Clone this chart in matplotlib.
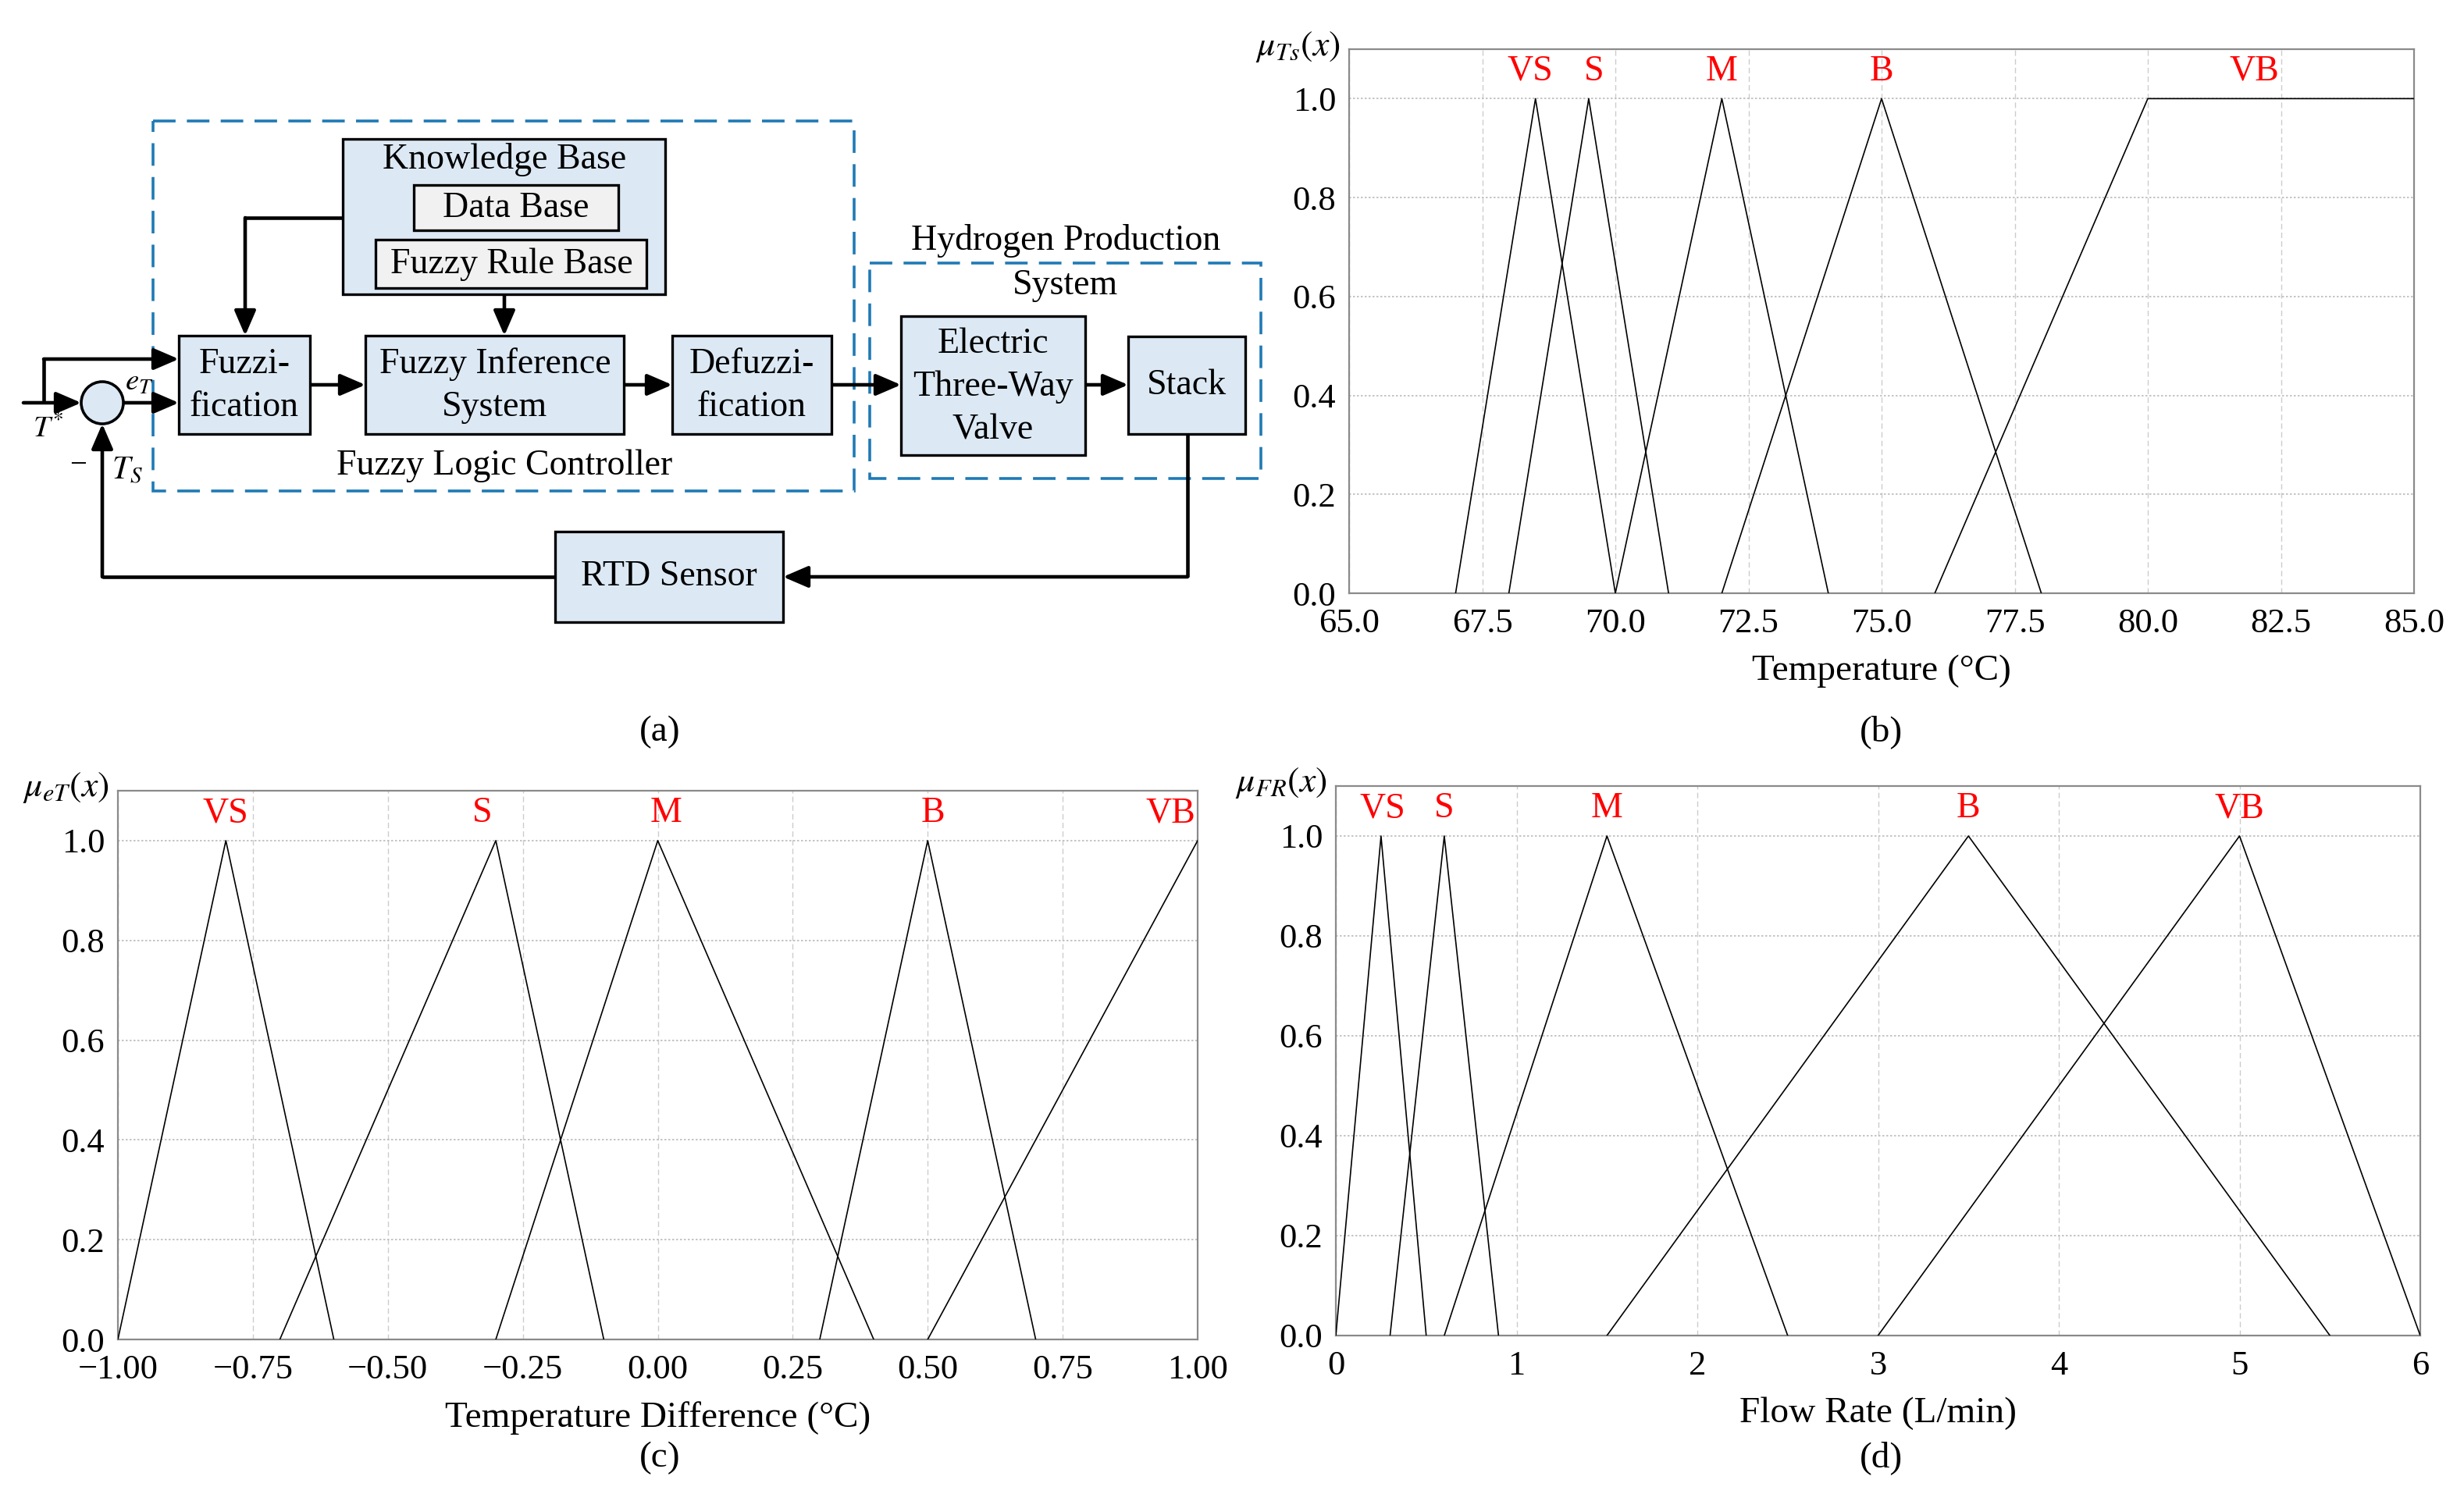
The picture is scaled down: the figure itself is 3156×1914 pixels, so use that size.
import matplotlib.pyplot as plt
from matplotlib.patches import Rectangle, Circle

plt.rcParams['font.family'] = ['Liberation Serif', 'DejaVu Serif']
plt.rcParams['mathtext.fontset'] = 'stix'

W, H = 3156, 1914

# ---- membership function data ----
mf_names = ['VS', 'S', 'M', 'B', 'VB']
mu_ticks = [0.0, 0.2, 0.4, 0.6, 0.8, 1.0]

# (b) stack temperature
ts_points = [[67.0, 68.5, 70.0], [68.0, 69.5, 71.0], [70.0, 72.0, 74.0],
             [72.0, 75.0, 78.0], [76.0, 80.0, 85.0]]
ts_mu = [[0, 1, 0], [0, 1, 0], [0, 1, 0], [0, 1, 0], [0, 1, 1]]
ts_name_x = [68.4, 69.6, 72.0, 75.0, 82.0]
ts_ticks = [65.0, 67.5, 70.0, 72.5, 75.0, 77.5, 80.0, 82.5, 85.0]

# (c) temperature difference
et_points = [[-1.0, -0.8, -0.6], [-0.7, -0.3, -0.1], [-0.3, 0.0, 0.4],
             [0.3, 0.5, 0.7], [0.5, 1.0]]
et_mu = [[0, 1, 0], [0, 1, 0], [0, 1, 0], [0, 1, 0], [0, 1]]
et_name_x = [-0.8, -0.325, 0.015, 0.51, 0.95]
et_ticks = [-1.0, -0.75, -0.5, -0.25, 0.0, 0.25, 0.5, 0.75, 1.0]

# (d) flow rate
fr_points = [[0.0, 0.25, 0.5], [0.3, 0.6, 0.9], [0.6, 1.5, 2.5],
             [1.5, 3.5, 5.5], [3.0, 5.0, 6.0]]
fr_mu = [[0, 1, 0], [0, 1, 0], [0, 1, 0], [0, 1, 0], [0, 1, 0]]
fr_name_x = [0.26, 0.6, 1.5, 3.5, 5.0]
fr_ticks = [0, 1, 2, 3, 4, 5, 6]

fig = plt.figure(figsize=(W / 100, H / 100), dpi=100)

# ---- block diagram (a), drawn in pixel units ----
axd = fig.add_axes([0, 0, 1, 1])
axd.set_xlim(0, W)
axd.set_ylim(H, 0)
axd.axis('off')

blue_fill = '#dce9f5'
grey_fill = '#f1f1f1'
dash_col = '#1f7ab5'
txt = 33


def box(x0, y0, x1, y1, fc=blue_fill, lw=2.4):
    axd.add_patch(Rectangle((x0, y0), x1 - x0, y1 - y0, fc=fc, ec='black', lw=lw, zorder=3))


def label(x, y, s, size=txt, **kw):
    axd.text(x, y, s, fontsize=size, ha='center', va='center', zorder=5, **kw)


def wire(pts, head=True):
    xs = [p[0] for p in pts]
    ys = [p[1] for p in pts]
    if head:
        axd.plot(xs[:-1], ys[:-1], color='black', lw=3.3, solid_capstyle='butt', zorder=2)
        axd.annotate('', xy=pts[-1], xytext=pts[-2],
                     arrowprops=dict(arrowstyle='-|>,head_length=0.65,head_width=0.28',
                                     color='black', lw=3.3, mutation_scale=30,
                                     shrinkA=0, shrinkB=0), zorder=2)
    else:
        axd.plot(xs, ys, color='black', lw=3.3, zorder=2)


# dashed group frames
axd.add_patch(Rectangle((196, 155), 1094 - 196, 629 - 155, fill=False, ec=dash_col,
                        lw=2.6, ls=(0, (8, 4)), zorder=1))
axd.add_patch(Rectangle((1114, 337), 1615 - 1114, 613 - 337, fill=False, ec=dash_col,
                        lw=2.6, ls=(0, (8, 4)), zorder=1))

# blocks
box(439, 178, 852, 377)
box(530, 237, 792, 295, fc=grey_fill)
box(481, 307, 828, 369, fc=grey_fill)
box(229, 430, 397, 556)
box(468, 430, 799, 556)
box(861, 430, 1065, 556)
box(1154, 405, 1390, 583)
box(1445, 431, 1595, 556)
box(711, 681, 1003, 797)
axd.add_patch(Circle((131, 516), 27, fc=blue_fill, ec='black', lw=2.6, zorder=3))

label(646, 204, 'Knowledge Base')
label(661, 267, 'Data Base')
label(655, 339, 'Fuzzy Rule Base')
label(313, 494, 'Fuzzi-\nfication', linespacing=1.4)
label(634, 494, 'Fuzzy Inference\nSystem', linespacing=1.4)
label(963, 494, 'Defuzzi-\nfication', linespacing=1.4)
label(1272, 496, 'Electric\nThree-Way\nValve', linespacing=1.4)
label(1520, 494, 'Stack')
label(857, 739, 'RTD Sensor')
label(646, 597, 'Fuzzy Logic Controller')
label(1365, 309, 'Hydrogen Production')
label(1365, 366, 'System')
label(178, 490, r'$e_T$', size=28)
label(62, 550, r'$T^{*}$', size=28)
label(100, 597, '\u2212', size=28)
label(163, 603, r'$T_S$', size=30)

# signal lines
wire([(30, 516), (104, 516)])
wire([(56, 516), (56, 460), (229, 460)])
wire([(158, 516), (229, 516)])
wire([(439, 279), (314, 279), (314, 430)])
wire([(646, 377), (646, 430)])
wire([(397, 493), (468, 493)])
wire([(799, 493), (861, 493)])
wire([(1065, 493), (1154, 493)])
wire([(1390, 493), (1445, 493)])
wire([(1521, 556), (1521, 739), (1003, 739)])
wire([(711, 739), (131, 739), (131, 543)])

# ---- membership function plots ----
def mf_axes(rect, points, mus, name_x, xticks, xfmt, xlabel, mulabel):
    ax = fig.add_axes(rect)
    for pts, mu in zip(points, mus):
        ax.plot(pts, mu, color='black', lw=1.2, zorder=3)
    for n, xn in zip(mf_names, name_x):
        ax.text(xn, 1.055, n, color='red', fontsize=33, ha='center', va='center')
    ax.set_xlim(xticks[0], xticks[-1])
    ax.set_ylim(0, 1.1)
    ax.set_xticks(xticks)
    ax.set_xticklabels([xfmt.format(v).replace('-', '\u2212') for v in xticks])
    ax.set_yticks(mu_ticks)
    ax.set_yticklabels(['{:.1f}'.format(v) for v in mu_ticks])
    ax.tick_params(length=0, labelsize=32)
    ax.tick_params(axis='x', pad=14)
    ax.tick_params(axis='y', pad=12)
    ax.grid(axis='x', color='#cccccc', ls=(0, (5, 3)), lw=1.0)
    ax.grid(axis='y', color='#bbbbbb', ls=(0, (1.5, 1.5)), lw=1.2)
    for s in ax.spines.values():
        s.set_color('#8a8a8a')
        s.set_linewidth(1.6)
    ax.set_xlabel(xlabel, fontsize=34, labelpad=14)
    ax.text(-0.008, 1.005, mulabel, transform=ax.transAxes, fontsize=33,
            ha='right', va='center')
    return ax


mf_axes([1728 / W, 1 - 760 / H, 1364 / W, 697 / H], ts_points, ts_mu, ts_name_x,
        ts_ticks, '{:.1f}', 'Temperature (\u00b0C)', r'$\mu_{Ts}(x)$')
mf_axes([151 / W, 1 - 1716 / H, 1383 / W, 703 / H], et_points, et_mu, et_name_x,
        et_ticks, '{:.2f}', 'Temperature Difference (\u00b0C)', r'$\mu_{eT}(x)$')
mf_axes([1711 / W, 1 - 1711 / H, 1389 / W, 704 / H], fr_points, fr_mu, fr_name_x,
        fr_ticks, '{:d}', 'Flow Rate (L/min)', r'$\mu_{FR}(x)$')

# panel captions
for s, x, y in [('(a)', 845, 938), ('(b)', 2410, 938), ('(c)', 845, 1868), ('(d)', 2410, 1868)]:
    fig.text(x / W, 1 - y / H, s, fontsize=34, ha='center', va='center')

fig.savefig('out.png', dpi=100)
